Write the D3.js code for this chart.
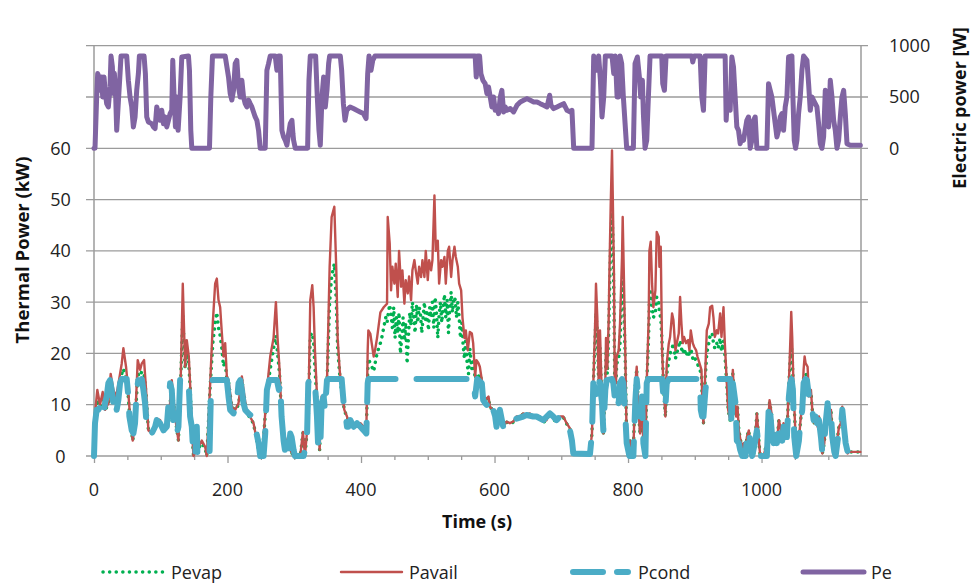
<!DOCTYPE html>
<html>
<head>
<meta charset="utf-8">
<script src="https://cdn.jsdelivr.net/npm/d3@7"></script>
<style>
  body { margin: 0; background: #fff; }
  svg { display: block; font-family: 'Open Sans', sans-serif; }
</style>
</head>
<body>
<div id="container"></div>
<script>
// time (s), thermal power (kW)
var pavail = [[0,0],[1.5,8.3],[5,12.9],[9,10],[13,12.5],[16.5,9],[21.5,10.3],[25,16],[29,12.9],[33,11.5],[36.5,14],[41.5,18],[44,21],[48,17.4],[50.5,14],[54,7.7],[58,3],[61.5,6.4],[65.5,18.7],[69,16.8],[71.5,18],[75,18.7],[78,12.9],[81.5,5],[86.5,4.4],[94,7.3],[99,7],[101.5,5.7],[106.5,5],[111.5,6],[116.5,14.8],[121.5,7.6],[126.5,3],[130,15.5],[133,33.6],[136.5,17.4],[139,22.6],[142,19.4],[144,14],[146.5,5.7],[149,0],[161.5,3],[166.5,1.8],[169,0],[174,14],[178,26],[181.5,33.6],[184,34.6],[186.5,30.4],[189,29],[191.5,24],[194,19.4],[196.5,22],[199,15.5],[201.5,14.8],[206.5,9.6],[211.5,9],[216.5,10.3],[221.5,15.5],[224,12.9],[229,8.3],[234,7.6],[239,6.4],[244,3],[246.5,1.2],[251.5,0],[254,3.7],[259,12.9],[264,19.4],[269,23],[272.5,30],[275,23],[278,16.8],[281,7.7],[284,4.4],[289,2.5],[294,1.2],[299,0],[309,0],[313,4.7],[316,0],[321,7.7],[324,30.4],[327,33.3],[329,29],[331,20.6],[335,9],[338,1.2],[341,11.6],[344,10.9],[349,14.2],[353,36.9],[356,46.6],[360,48.6],[363,36.2],[365,23],[368,16.8],[371,12.9],[375,9],[379,7.7],[384,5.7],[389,6.4],[394,5.7],[399,6.4],[404,5.7],[408,5],[410,20.6],[411,24.5],[414,23.8],[416,22],[419,19.4],[421,20.6],[424,23],[429,28],[434,29],[439,29.7],[440,46.6],[443,41.4],[445,32.3],[447,36.9],[450,33.6],[452,37.5],[455,31],[457,40],[460,33],[462,36.2],[465,29.7],[467,34.3],[470,31.7],[472,35],[475,30.4],[477,36.2],[480,38.2],[482,36.2],[485,33.6],[487,36.9],[490,34.9],[492,38.2],[495,34.9],[497,40],[500,34.3],[502,38.2],[505,36.2],[507,38.2],[510,50.8],[512,40],[515,42],[517,33.6],[520,38.2],[522,36.9],[525,38.8],[527,33.6],[530,40],[532,40.8],[535,34.9],[537,38.2],[540,40.8],[542,38.8],[545,36.9],[547,33.6],[550,32.3],[552,27],[555,23],[557,24.5],[560,20.6],[563,24.2],[566,23.9],[568,22],[571,15.5],[573,18.7],[576,18.1],[578,17.4],[581,14.8],[583,11.6],[586,10.9],[591,11.6],[593,9.6],[598,9],[603,7.7],[608,9],[613,5.7],[618,6.7],[623,6.4],[628,6.7],[633,7.7],[638,7.7],[643,8.3],[648,8],[653,8.3],[658,7.8],[663,7.7],[668,7.7],[673,6.7],[678,7],[683,8.6],[688,7.3],[693,6.7],[698,7.7],[703,7.7],[708,6.4],[713,5.4],[716,3],[717,0.5],[723,0.4],[733,0.4],[738,0.6],[743,0.8],[746,4.4],[748,14.2],[751,27],[752,33.6],[754,27],[756,14.2],[758,24.5],[761,10.3],[763,4.4],[766,14.2],[767,23],[769,17],[771,26.5],[772,35],[774,48.6],[776,59.6],[777,51.8],[779,35],[780,14.8],[782,14.2],[783,19.4],[786,20.6],[788,25.8],[791,38.8],[792,46.6],[794,33.6],[796,19.4],[798,2.5],[801,0.5],[803,3],[806,0],[808,1.2],[811,14.2],[813,17.4],[816,8.3],[818,4.4],[821,11.6],[823,1.2],[826,0.5],[828,14.2],[831,27],[832,40],[834,41.8],[836,33.6],[838,29],[841,32.3],[843,43.7],[846,42.7],[847,36.9],[849,40.8],[851,20.6],[853,14.2],[856,7.7],[858,18],[861,21.9],[863,23.2],[866,27.8],[868,26.5],[871,20.6],[873,22],[876,23.9],[878,31],[880,25.8],[882,22],[884,23.2],[887,22],[890,22.6],[892,20.6],[894,24.5],[897,22],[899,21.3],[902,20.6],[904,19.4],[907,18.1],[910,16.8],[912,7.7],[913,6.4],[916,17.4],[918,24.5],[921,25.8],[923,29],[926,29.3],[928,27],[930,23.2],[933,24.5],[935,23.9],[938,27.8],[940,23.2],[943,29],[945,22],[948,14.2],[950,9],[953,7],[956,12.9],[957,16.8],[959,11.6],[962,7.7],[964,9.6],[966,5],[971,1.2],[973,2.5],[976,0.5],[978,3.7],[981,5],[983,0.8],[988,0],[991,4.4],[993,8.3],[996,3],[998,0],[1003,0],[1008,2.5],[1012,10.9],[1015,8.3],[1017,3],[1020,4.4],[1023,2.5],[1026,7],[1028,5.7],[1031,3.7],[1033,6.4],[1036,4.4],[1038,3.7],[1041,14.2],[1043,22],[1044.5,28.1],[1046,23],[1048,12.9],[1051,3.7],[1053,0],[1056,3],[1058,6.4],[1061,10.3],[1063,16.8],[1064.5,19.4],[1066,18.1],[1069,17.4],[1071,11.6],[1074,12.9],[1076,9],[1079,6.4],[1081,7],[1084,5.7],[1086,7.7],[1089,3.7],[1091,0.5],[1094,2.5],[1096,6.4],[1099,10.3],[1101,6.4],[1104,9],[1106,3.7],[1109,0.5],[1111,0],[1114,3.7],[1116,5.7],[1119,6.4],[1121,9.6],[1124,5],[1126,2.5],[1129,0.5],[1131,0.8],[1148,0.8]];

var pevap = [[0,0],[1.5,7],[5,11],[9,9.5],[13,11],[16.5,9],[21.5,10],[25,14.5],[29,12],[33,11],[36.5,13],[41.5,16],[44,17],[48,15],[50.5,13],[54,7],[58,3],[61.5,6],[65.5,16],[69,15.5],[71.5,16.5],[75,16],[78,12],[81.5,5],[86.5,4.4],[94,7],[99,6.8],[101.5,5.5],[106.5,5],[111.5,6],[116.5,14],[121.5,7.5],[126.5,3],[130,15],[133,27.5],[136.5,17],[139,20],[142,18],[144,13.5],[146.5,5.5],[149,0],[161.5,2.5],[166.5,1.5],[169,0],[174,13.5],[178,22],[181.5,26],[184,28],[186.5,25],[189,23.5],[191.5,21],[194,17.5],[196.5,18.5],[199,15],[201.5,14.5],[206.5,9.5],[211.5,9],[216.5,10],[221.5,15],[224,12.5],[229,8.2],[234,7.5],[239,6.3],[244,3],[246.5,1.2],[251.5,0],[254,3.5],[259,12.5],[264,17],[269,21],[272.5,23.5],[275,20],[278,16],[281,7.5],[284,4.2],[289,2.5],[294,1.2],[299,0],[309,0],[313,4.5],[316,0],[321,7.5],[324,23.5],[327,24],[329,22],[331,17],[335,9],[338,1.2],[341,11],[344,10.5],[349,14],[353,30],[356,35],[360,37.5],[363,30],[365,21],[368,16],[371,12.5],[375,9],[379,7.5],[384,5.7],[389,6.3],[394,5.7],[399,6.3],[404,5.7],[408,5],[410,16],[411,19],[414,18],[416,17.5],[419,16.5],[421,18],[424,20],[429,22],[431,23],[434,25],[437,27],[439,26],[441,28],[443,29.5],[445,27.5],[447,25],[449,29],[451,23],[453,27],[455,24],[457,28],[459,20],[461,23],[463,27],[465,22.5],[467,26],[469,18],[471,23],[473,28],[475,25.5],[477,30],[479,27],[481,24],[483,29.5],[485,26],[487,29],[489,28],[491,24],[493,27],[495,30],[497,26],[499,28.5],[501,24.5],[503,29],[505,27],[507,30],[509,25],[511,31],[513,28],[515,23],[517,27.5],[519,30],[521,26],[523,29],[525,31.5],[527,27],[529,30.5],[531,24],[533,29],[535,32],[537,28],[539,31],[541,30.5],[543,27],[545,30],[547,27],[549,23],[551,26],[553,21.5],[555,19],[557,23],[559,18],[561,16],[563,21],[566,17],[568,19],[571,15],[573,16],[576,15.5],[578,16],[581,14.5],[583,11.5],[586,10.8],[591,11.4],[593,9.5],[598,9],[603,7.6],[608,8.8],[613,5.7],[618,6.6],[623,6.3],[628,6.6],[633,7.5],[638,7.6],[643,8.2],[648,7.9],[653,8.2],[658,7.7],[663,7.6],[668,7.6],[673,6.6],[678,6.9],[683,8.4],[688,7.2],[693,6.6],[698,7.6],[703,7.6],[708,6.3],[713,5.3],[716,3],[717,0.5],[743,0.5],[746,4.4],[748,14],[751,24],[752,28],[754,24],[756,14],[758,21],[761,10],[763,4.4],[766,14],[767,20],[769,16],[771,24],[772,30],[774,42],[776,47.5],[777,44],[779,30],[780,14.5],[782,14],[783,18],[786,19],[788,22],[791,33],[792,35],[794,28],[796,18],[798,2.5],[801,0.5],[803,3],[806,0],[808,1.2],[811,14],[813,17],[816,8.2],[818,4.4],[821,11.5],[823,1.2],[826,0.5],[828,14],[831,24],[832,30],[834,32],[836,29],[838,27],[841,28],[843,31],[846,30],[847,28],[849,27],[851,22],[853,14],[856,7.7],[858,16],[861,18.5],[863,20],[866,21],[868,22],[871,19],[873,20],[876,21.5],[878,22.5],[880,21],[882,20],[884,21],[887,19.5],[890,20.5],[892,19.5],[894,21],[897,19],[899,19.5],[902,18.5],[904,18],[907,17],[910,16],[912,7.7],[913,6.4],[916,16],[918,20],[921,22],[923,23.5],[926,24],[928,22],[930,21],[933,22],[935,21],[938,23],[940,20.5],[943,22.5],[945,20],[948,14],[950,9],[953,7],[956,12.5],[957,16],[959,11.5],[962,7.7],[964,9.5],[966,5],[971,1.2],[973,2.5],[976,0.5],[978,3.7],[981,5],[983,0.8],[988,0],[991,4.4],[993,8.2],[996,3],[998,0],[1003,0],[1008,2.5],[1012,10.5],[1015,8.2],[1017,3],[1020,4.4],[1023,2.5],[1026,7],[1028,5.7],[1031,3.7],[1033,6.3],[1036,4.4],[1038,3.7],[1041,14],[1043,19],[1044.5,22],[1046,19],[1048,12.5],[1051,3.7],[1053,0],[1056,3],[1058,6.3],[1061,10],[1063,15],[1064.5,16],[1066,16],[1069,15.5],[1071,11.5],[1074,12.5],[1076,9],[1079,6.4],[1081,7],[1084,5.7],[1086,7.7],[1089,3.7],[1091,0.5],[1094,2.5],[1096,6.4],[1099,10.3],[1101,6.4],[1104,9],[1106,3.7],[1109,0.5],[1111,0],[1114,3.7],[1116,5.7],[1119,6.4],[1121,9.6],[1124,5],[1126,2.5],[1129,0.5],[1131,0.8],[1148,0.8]];

var pcond = [[0,0],[1.5,6.4],[4,9],[6.5,9],[9,9.6],[11.5,9],[14,7.7],[16.5,10.3],[19,11.6],[21.5,14.2],[24,14.8],[26.5,12.9],[29,10.3],[31.5,11.6],[34,9],[36.5,10.9],[39,14.2],[41.5,15],[49,15],[51.5,11.6],[53,7.7],[56.5,5],[59,4.4],[61.5,6.4],[64,12.9],[66.5,14.8],[69,14.2],[71.5,15],[74,12.9],[76.5,10.3],[79,5.7],[81.5,4.4],[86.5,4.4],[91.5,5.7],[94,7],[99,6.4],[104,5],[109,5.7],[114,14.2],[116.5,12.9],[119,7],[121.5,8.3],[124,4.4],[126.5,5.7],[129,14.8],[131.5,15],[141.5,15],[144,7.7],[146.5,5.7],[149,0],[151.5,0],[154,5.7],[155,0],[173,0],[175,11.6],[177.5,14.8],[199,14.8],[201.5,11.6],[204,9],[209,8.3],[214,10.3],[216.5,14.2],[219,14.8],[221.5,12.9],[224,10.3],[226.5,9],[231.5,8.3],[236.5,7.7],[241.5,5.7],[246.5,2.5],[249,0],[254,0],[256.5,4.4],[259,12.9],[262.5,14.8],[274,14.8],[277,12.9],[279,14],[281,7.7],[284,3],[286,1.2],[289,2.5],[291,0.5],[294,4.4],[296,3.7],[299,1.2],[301,0],[314,0],[319,3],[321,14.2],[323,15],[329,15],[331,14.2],[334,7.7],[336,1.2],[339,1.8],[341,10.3],[344,11.6],[346,9],[349,14.8],[351,15],[371,15],[374,10.3],[376,9],[379,5.7],[381,5.7],[384,7],[389,5.7],[394,6.4],[399,5.7],[404,5],[408,4.4],[410,14.2],[411,15],[568,15],[571,11.6],[574,15],[581,14.2],[583,10.9],[586,10.3],[591,9.6],[593,8.3],[596,7.7],[598,9],[601,7.7],[603,5.7],[606,8.3],[608,9],[611,7],[613,5.7],[618,6.7],[623,6],[628,6.7],[633,7.3],[643,7.7],[648,8],[658,7.7],[663,7.7],[673,7],[683,8.3],[688,7.7],[693,7],[698,7.7],[708,6.4],[713,5],[716,3],[718,0.5],[743,0.4],[746,4.4],[748,14.2],[751,12.9],[753,11.6],[756,14.8],[758,14.2],[761,10.3],[763,5],[766,12.9],[768,14.8],[776,15],[778,14.2],[781,10.3],[783,11.6],[786,10.3],[788,14.2],[791,15],[793,14.2],[796,7.7],[798,2.5],[802,0],[808,0],[811,10.9],[813,15],[816,10.9],[818,7.7],[821,11.6],[823,2.5],[826,0],[828,14.2],[830,15],[851,15],[853,11.6],[856,9.6],[858,14.2],[861,15],[906,15],[908,14.2],[909,9],[911,7.7],[913,7.7],[916,12.9],[918,15],[953,15],[954,13],[955,5.7],[957,14.2],[961,10.3],[963,3],[966,2.5],[968,1.2],[971,0],[976,0],[978,3.7],[981,5],[983,2.5],[986,0],[990,2.5],[993,5],[996,1.2],[998,0],[1008,0],[1011,10.3],[1013,8.3],[1016,3.7],[1018,2.5],[1021,3.7],[1023,2.5],[1026,6.4],[1028,4.4],[1031,3],[1033,5.7],[1036,3.7],[1038,3.7],[1041,11.6],[1043,14.2],[1045,15],[1047,12.9],[1049,3.7],[1052,0],[1056,3],[1058,6.4],[1061,9],[1063,14.2],[1066,15],[1068,14.8],[1071,11.6],[1073,11.6],[1076,9],[1078,7],[1081,7.7],[1083,6.4],[1086,7],[1089,3.7],[1091,0.8],[1094,2.5],[1096,6.4],[1099,10.3],[1101,6.4],[1104,8.3],[1106,3.7],[1109,0.8],[1111,0],[1114,3],[1116,5],[1119,5.7],[1121,9],[1124,5],[1126,2.5],[1129,0.8],[1133,0.8],[1148,0.8]];

// time (s), electric power (W)
var pe = [[0,0],[1.5,0],[4,500],[5.5,728],[7.5,695],[9,565],[11.5,695],[13,500],[15,695],[17,536],[19,435],[21.5,403],[24,598],[25.5,900],[27.5,796],[29,536],[30.5,731],[32.5,500],[34,175],[35.5,338],[37.5,565],[39,728],[40.5,900],[49,900],[51.5,663],[54,500],[56.5,403],[59,208],[61.5,305],[64,565],[66.5,728],[68,900],[75,900],[77,728],[79,305],[81.5,257],[86.5,240],[89,208],[91.5,192],[94,403],[96.5,338],[99,273],[101.5,370],[104,240],[106.5,305],[109,208],[111.5,273],[114,338],[116.5,370],[118,857],[120,500],[122,208],[124,500],[126,175],[129,500],[131.5,890],[141.5,900],[143,760],[145,175],[146.5,0],[173,0],[175,500],[177.5,900],[196.5,900],[201.5,695],[204,536],[206.5,470],[209,565],[211.5,825],[214,857],[216.5,598],[219,500],[221.5,663],[224,500],[226.5,435],[229,403],[231.5,470],[234,435],[236.5,403],[239,354],[241.5,305],[244,273],[246.5,175],[249,0],[256.5,0],[259,760],[261.5,825],[264,900],[271.5,900],[274,760],[276.5,900],[279,900],[281.5,175],[284,110],[286.5,78],[289,30],[291.5,143],[294,240],[296.5,273],[298,143],[299,78],[301.5,0],[320,0],[322,663],[324,900],[332,900],[334.5,500],[337,175],[339,30],[341.5,500],[344,695],[346.5,403],[349,565],[351.5,825],[353,900],[369,900],[371,760],[373.6,435],[376,273],[378.6,370],[383.6,403],[388.6,387],[393.6,370],[398.6,354],[403.6,338],[407.6,290],[410,728],[412,900],[415,760],[417.6,858],[421,900],[571,900],[572.6,695],[574.6,900],[577.6,900],[579.6,728],[582.6,663],[586,630],[588.6,533],[591,598],[593.6,500],[596,403],[598.6,500],[601,370],[603.6,403],[606,338],[608.6,500],[611,565],[613.6,354],[616,403],[618.6,370],[623.6,387],[628.6,354],[633.6,419],[638.6,452],[643.6,468],[648.6,484],[653.6,468],[658.6,452],[663.6,452],[668.6,435],[673.6,419],[678.6,403],[682.6,517],[684.6,419],[688.6,387],[693.6,403],[698.6,419],[703.6,435],[708.6,370],[713.6,354],[716,370],[718.6,0],[746,0],[748.6,900],[753.6,760],[756,900],[758.6,663],[761,305],[763.6,500],[766,900],[776,900],[778.6,728],[781,900],[783.6,500],[786,500],[788,900],[790.5,825],[793,500],[798,0],[808,0],[810.5,825],[814,890],[817,695],[819,500],[821.5,663],[823,338],[825.5,0],[828,78],[830.5,500],[833,900],[850.5,900],[852,630],[854.5,565],[857,900],[895.5,900],[897,841],[899,900],[908,900],[910.5,500],[913,370],[915.5,900],[945.5,900],[947,273],[949,500],[953,370],[955.5,890],[958,793],[960.5,500],[963,208],[965.5,175],[968,45],[970.5,110],[973,78],[975.5,175],[978,273],[980.5,305],[983,0],[985.5,78],[988,273],[990.5,305],[993,0],[1008,0],[1010.5,630],[1013,565],[1015.5,500],[1018,370],[1020.5,240],[1023,110],[1025.5,175],[1028,305],[1030.5,338],[1033,175],[1035.5,403],[1038,500],[1040.5,890],[1045.5,900],[1047,500],[1049,78],[1051,0],[1053,78],[1055.5,338],[1058,500],[1060.5,760],[1063,900],[1068,858],[1070.5,630],[1073,370],[1075.5,500],[1078,468],[1083,403],[1085.5,240],[1088,45],[1090.5,0],[1093,110],[1095.5,565],[1098,500],[1100.5,208],[1103,663],[1105.5,500],[1108,273],[1110.5,175],[1113,0],[1115.5,78],[1118,305],[1120.5,500],[1123,565],[1125.5,338],[1128,45],[1133,29],[1148,29]];

var timeTicks = [0, 200, 400, 600, 800, 1000];
var thermalTicks = [0, 10, 20, 30, 40, 50, 60];
var elecTicks = [0, 500, 1000];
var seriesNames = ['Pevap', 'Pavail', 'Pcond', 'Pe'];

var W = 971, H = 584;
var plotL = 94, plotR = 861, plotT = 45.7, plotB = 456;

var svg = d3.select('#container').append('svg')
  .attr('width', W).attr('height', H);

var x = d3.scaleLinear().domain([0, 1149]).range([plotL, plotR]);
var yT = d3.scaleLinear().domain([0, 80]).range([plotB, plotT]);   // kW, only 0..60 labelled
var yE = d3.scaleLinear().domain([-3000, 1000]).range([plotB, plotT]); // W, only 0..1000 labelled

var gridCol = '#9b9b9b';

// gridlines (they run out a bit past both axes like tick marks)
svg.append('g').selectAll('line').data(d3.range(0, 81, 10)).enter()
  .append('line')
  .attr('x1', plotL - 8).attr('x2', plotR + 7)
  .attr('y1', function(d) { return yT(d); }).attr('y2', function(d) { return yT(d); })
  .attr('stroke', gridCol).attr('stroke-width', 1.3);

// axis lines
svg.append('line').attr('x1', plotL).attr('x2', plotL).attr('y1', plotT).attr('y2', plotB)
  .attr('stroke', gridCol).attr('stroke-width', 1.5);
svg.append('line').attr('x1', plotR).attr('x2', plotR).attr('y1', plotT).attr('y2', plotB)
  .attr('stroke', gridCol).attr('stroke-width', 1.5);

// x ticks: every 50 s, longer every 200 s
var xAxis = d3.axisBottom(x).tickValues(d3.range(0, 1149, 50))
  .tickSize(4).tickFormat('');
var gx = svg.append('g').attr('transform', 'translate(0,' + plotB + ')').call(xAxis);
gx.select('.domain').remove();
gx.selectAll('.tick line').attr('stroke', gridCol).attr('stroke-width', 1.3)
  .attr('y2', function(d) { return d % 200 === 0 ? 7 : 4; });

svg.append('g').selectAll('text').data(timeTicks).enter()
  .append('text')
  .attr('x', function(d) { return x(d); }).attr('y', 496)
  .attr('text-anchor', 'middle').attr('font-size', 18).attr('fill', '#222')
  .text(function(d) { return d; });

svg.append('g').selectAll('text').data(thermalTicks).enter()
  .append('text')
  .attr('x', 60.5).attr('y', function(d) { return yT(d) + 6.5; })
  .attr('text-anchor', 'middle').attr('font-size', 18).attr('fill', '#222')
  .text(function(d) { return d; });

svg.append('g').selectAll('text').data(elecTicks).enter()
  .append('text')
  .attr('x', 889).attr('y', function(d) { return yE(d) + 6.5; })
  .attr('text-anchor', 'start').attr('font-size', 18).attr('fill', '#222')
  .text(function(d) { return d; });

// axis titles
svg.append('text').attr('transform', 'translate(29,250) rotate(-90)')
  .attr('text-anchor', 'middle').attr('font-size', 18.5).attr('font-weight', 'bold')
  .attr('fill', '#111').text('Thermal Power (kW)');
svg.append('text').attr('transform', 'translate(966,108) rotate(-90)')
  .attr('text-anchor', 'middle').attr('font-size', 18).attr('font-weight', 'bold')
  .attr('fill', '#111').text('Electric power [W]');
svg.append('text').attr('x', 477).attr('y', 528)
  .attr('text-anchor', 'middle').attr('font-size', 18).attr('font-weight', 'bold')
  .attr('fill', '#111').text('Time (s)');

// series
var lineT = d3.line().x(function(d) { return x(d[0]); }).y(function(d) { return yT(d[1]); });
var lineE = d3.line().x(function(d) { return x(d[0]); }).y(function(d) { return yE(d[1]); });

var styles = {
  Pevap:  { color: '#00b050', width: 3.5, dash: '0.1,6.5', cap: 'round' },
  Pavail: { color: '#c0504d', width: 2.4, dash: null, cap: 'round' },
  Pcond:  { color: '#4bacc6', width: 6, dash: '50,21', cap: 'round' },
  Pe:     { color: '#8064a2', width: 5, dash: null, cap: 'round' }
};

function draw(data, gen, s) {
  svg.append('path').datum(data)
    .attr('d', gen)
    .attr('fill', 'none')
    .attr('stroke', s.color)
    .attr('stroke-width', s.width)
    .attr('stroke-linejoin', 'round')
    .attr('stroke-linecap', s.cap)
    .attr('stroke-dasharray', s.dash);
}
draw(pevap, lineT, styles.Pevap);
draw(pavail, lineT, styles.Pavail);
draw(pcond, lineT, styles.Pcond);
draw(pe, lineE, styles.Pe);

// legend
var legX = [103, 341, 570, 803];
var lg = svg.append('g').selectAll('g').data(seriesNames).enter()
  .append('g').attr('transform', function(d, i) { return 'translate(' + legX[i] + ',572)'; });
lg.append('line')
  .attr('x1', function(d) { return d === 'Pcond' ? 3 : 0; })
  .attr('x2', function(d) { return d === 'Pcond' ? 58 : 61; })
  .attr('y1', 0).attr('y2', 0)
  .attr('stroke', function(d) { return styles[d].color; })
  .attr('stroke-width', function(d) { return styles[d].width; })
  .attr('stroke-linecap', function(d) { return styles[d].cap; })
  .attr('stroke-dasharray', function(d) {
    if (d === 'Pcond') return '30,14';
    return styles[d].dash;
  });
lg.append('text').attr('x', 68).attr('y', 6.5)
  .attr('font-size', 18).attr('fill', '#222')
  .text(function(d) { return d; });
</script>
</body>
</html>
